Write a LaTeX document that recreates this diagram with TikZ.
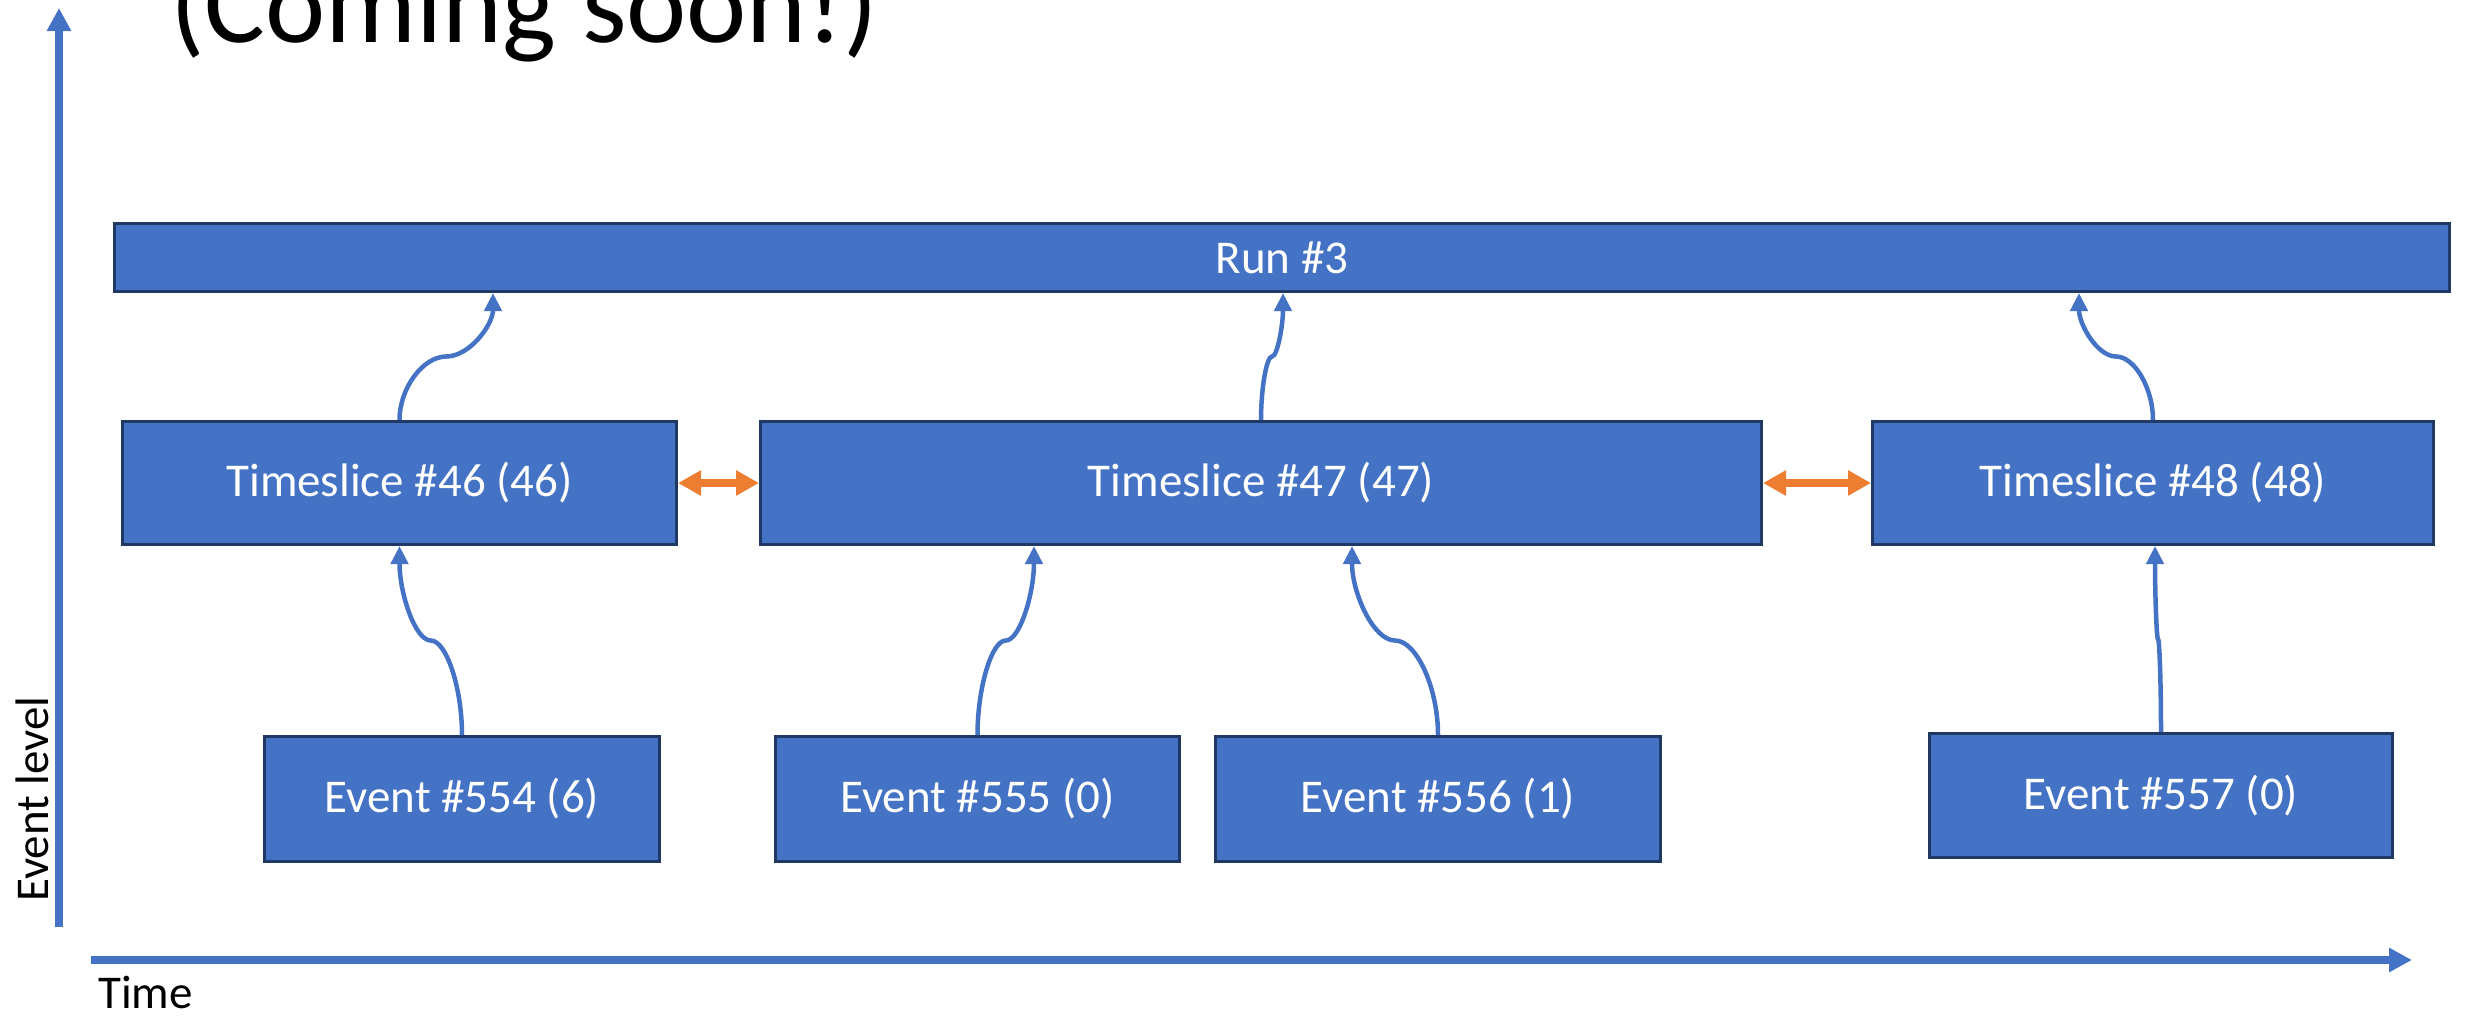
\documentclass[tikz,border=0pt]{standalone}
\usepackage{fontspec}
\setmainfont{Carlito}
\usetikzlibrary{arrows.meta,calc}
\definecolor{boxblue}{HTML}{4472C4}
\definecolor{boxline}{HTML}{203864}
\definecolor{linkorange}{HTML}{ED7D31}

% S-shaped connector: leaves the lower box vertically, turns horizontal
% half way up, and enters the upper box vertically.
\newcommand\curvedconn[2]{%
  \draw[conn] let \p1=(#1), \p2=(#2) in
    (\p1) .. controls (\x1,{\y1+(\y2-\y1)/4}) and ({\x1+(\x2-\x1)/4},{(\y1+\y2)/2})
    .. ({(\x1+\x2)/2},{(\y1+\y2)/2})
    .. controls ({\x1+3*(\x2-\x1)/4},{(\y1+\y2)/2}) and (\x2,{\y1+3*(\y2-\y1)/4}) .. (\p2);}

\begin{document}
\begin{tikzpicture}[x=1pt,y=-1pt,
  block/.style={draw=boxline, line width=3pt, fill=boxblue, text=white,
    font=\fontsize{47}{56}\selectfont, inner sep=0pt},
  conn/.style={draw=boxblue, line width=4.5pt, -{Triangle[length=18pt,width=17pt]}},
  link/.style={draw=linkorange, line width=8pt,
    {Triangle[length=23pt,width=24pt]}-{Triangle[length=23pt,width=24pt]}},
  axis/.style={draw=boxblue, line width=7.5pt, -{Triangle[length=23pt,width=23pt]}},
  lbl/.style={font=\fontsize{47}{56}\selectfont, inner sep=0pt}]

\useasboundingbox (0,0) rectangle (2468,1015);
\clip (0,0) rectangle (2468,1015);

% heading, partly above the top edge
\node[anchor=base west, inner sep=0pt, font=\fontsize{114}{130}\selectfont] (title) at (170,42) {(Coming soon!)};

% axes
\coordinate (ybot) at (59,927);
\coordinate (ytop) at (59,8);
\coordinate (xleft) at (91,960);
\coordinate (xright) at (2412,960);
\draw[axis] (ybot) -- (ytop);
\draw[axis] (xleft) -- (xright);
\node[lbl, anchor=base west] (timelbl) at (98,1008) {Time};
\node[lbl, anchor=base west, rotate=90] (levellbl) at (48,902) {Event level};

% run level
\node[block, minimum width=2335pt, minimum height=68pt] (run) at (1282,257.5) {Run \#3};

% timeslice level
\node[block, minimum width=554pt, minimum height=123pt] (ts46) at (399.5,483) {Timeslice \#46 (46)};
\node[block, minimum width=1001pt, minimum height=123pt] (ts47) at (1261,483) {Timeslice \#47 (47)};
\node[block, minimum width=561pt, minimum height=123pt] (ts48) at (2153,483) {Timeslice \#48 (48)};

% event level
\node[block, minimum width=395pt, minimum height=125pt] (ev554) at (462,799) {Event \#554 (6)};
\node[block, minimum width=404pt, minimum height=125pt] (ev555) at (977.5,799) {Event \#555 (0)};
\node[block, minimum width=445pt, minimum height=125pt] (ev556) at (1438,799) {Event \#556 (1)};
\node[block, minimum width=463pt, minimum height=124pt] (ev557) at (2161,795.5) {Event \#557 (0)};

% neighbouring timeslices
\draw[link] (ts46.east) -- (ts47.west);
\draw[link] (ts47.east) -- (ts48.west);

% events into timeslices
\curvedconn{ev554.north}{ts46.south}
\curvedconn{ev555.north}{[xshift=-227pt]ts47.south}
\curvedconn{ev556.north}{[xshift=91pt]ts47.south}
\curvedconn{ev557.north}{[xshift=2pt]ts48.south}

% timeslices into the run
\curvedconn{ts46.north}{[xshift=-789pt]run.south}
\curvedconn{ts47.north}{[xshift=1pt]run.south}
\curvedconn{ts48.north}{[xshift=797pt]run.south}

\end{tikzpicture}
\end{document}
